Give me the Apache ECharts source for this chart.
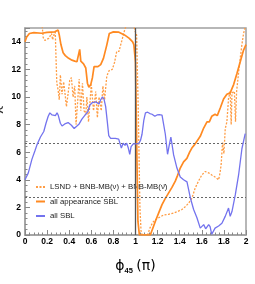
<!DOCTYPE html>
<html><head><meta charset="utf-8">
<script src="https://cdn.jsdelivr.net/npm/echarts@6/dist/echarts.min.js"></script>
<style>html,body{margin:0;padding:0;background:#fff}#c{width:255px;height:284px}</style>
</head><body><div id="c"></div>
<script>
// ---- data ----
const seriesNames = ['LSND + BNB-MB(\u03bd) + BNB-MB(\u03bd\u0304)', 'all appearance SBL', 'all SBL'];
const xRange = [0, 2, 0.2];
const yRange = [0, 15, 2];
const thresholds = [2.71, 6.63];
const verticalMark = [1];

const dotX = [0,0.1,0.155,0.165,0.18,0.196,0.215,0.226,0.24,0.25,0.262,0.274,0.28,0.288,0.3,0.31,0.32,0.335,0.35,0.36,0.375,0.39,0.405,0.42,0.435,0.45,0.462,0.475,0.49,0.505,0.52,0.535,0.55,0.56,0.575,0.59,0.6,0.62,0.64,0.655,0.67,0.69,0.705,0.72,0.74,0.76,0.79,0.81,0.83,0.85,0.88,0.9,0.92,0.96,0.985,0.995,1.01,1.025,1.04,1.05,1.06,1.11,1.13,1.155,1.18,1.21,1.255,1.3,1.345,1.38,1.42,1.45,1.48,1.51,1.54,1.57,1.6,1.632,1.662,1.69,1.72,1.752,1.765,1.775,1.788,1.8,1.812,1.827,1.842,1.857,1.866,1.873,1.895,1.905,1.915,1.94,1.963,1.978,1.99];
const dotY = [16,16,15.2,14.3,14.1,14.1,14.25,14.2,14.6,14.15,14.5,14.7,13.0,11.0,10.5,9.8,11.6,10.2,11.1,10.4,9.3,9.4,11.2,11.4,10.0,10.8,8.0,9.5,11.3,9.0,11.0,9.0,8.7,10.0,8.2,8.3,10.9,9.0,10.4,8.5,10.0,9.0,10.8,9.8,11.5,11.9,12.0,12.5,13.3,13.3,14.2,14.8,15.3,15.5,15.2,14.8,14.5,9,2,0.3,0,0,0.5,0.9,1.1,1.25,1.45,1.5,1.6,1.7,1.85,2.05,2.3,2.65,3.4,3.9,4.35,4.6,4.5,4.35,4.2,4.0,4.5,5.1,6.7,5.9,7.7,8.2,9.9,10.4,8.0,10.3,10.4,8.2,10.4,12.3,13.8,14.6,15.0];

const appX = [0,0.015,0.04,0.08,0.15,0.2,0.27,0.3,0.31,0.325,0.345,0.365,0.395,0.425,0.45,0.47,0.485,0.495,0.505,0.53,0.55,0.565,0.578,0.595,0.61,0.625,0.66,0.685,0.71,0.74,0.763,0.8,0.85,0.9,0.944,0.974,0.985,1.0,1.012,1.022,1.035,1.134,1.155,1.18,1.21,1.24,1.27,1.3,1.33,1.36,1.38,1.405,1.435,1.465,1.49,1.51,1.535,1.556,1.586,1.617,1.647,1.668,1.69,1.72,1.74,1.767,1.797,1.827,1.857,1.888,1.918,1.948,1.978,2.0];
const appY = [14.0,14.35,14.6,14.67,14.62,14.68,14.72,14.85,14.5,13.8,13.2,13.0,12.8,12.67,12.6,12.55,12.6,13.45,12.6,12.4,12.1,11.0,10.7,10.9,11.4,12.2,12.2,12.35,12.8,13.76,14.6,14.72,14.7,14.5,14.25,14.0,13.8,12.5,6,1,0,0,0.45,1.0,1.6,2.2,2.65,3.05,3.45,3.9,4.3,4.85,5.3,5.55,6.0,6.3,6.55,6.8,7.15,7.75,8.2,8.2,8.6,8.75,8.65,9.2,9.85,10.2,10.3,10.9,11.7,12.55,13.4,13.8];

const sblX = [0,0.03,0.063,0.09,0.109,0.14,0.17,0.19,0.21,0.225,0.245,0.26,0.275,0.29,0.3,0.32,0.335,0.36,0.39,0.42,0.445,0.47,0.49,0.515,0.545,0.57,0.585,0.61,0.64,0.67,0.685,0.7,0.715,0.73,0.745,0.758,0.775,0.818,0.848,0.872,0.888,0.905,0.92,0.935,0.948,0.96,0.98,1.0,1.029,1.045,1.059,1.075,1.09,1.11,1.13,1.15,1.175,1.195,1.215,1.24,1.255,1.27,1.29,1.305,1.32,1.33,1.345,1.375,1.405,1.435,1.466,1.496,1.526,1.556,1.586,1.6,1.617,1.635,1.662,1.675,1.69,1.72,1.752,1.782,1.812,1.842,1.857,1.873,1.903,1.933,1.963,1.993];
const sblY = [4.0,4.5,5.5,6.1,6.55,7.1,7.5,8.1,8.6,8.85,8.7,8.6,8.65,8.85,8.7,8.1,7.9,8.05,8.15,7.95,7.72,7.9,8.05,8.4,8.7,8.95,9.4,9.6,9.65,9.5,9.8,10.0,9.85,9.3,8.2,7.2,7.0,7.0,6.95,6.3,6.65,6.5,6.65,6.3,5.85,6.4,6.6,6.6,6.62,6.85,7.3,8.3,8.85,8.9,8.8,8.75,8.6,8.7,8.72,8.68,8.55,7.3,5.85,6.5,7.1,6.6,5.8,4.85,4.2,4.0,3.85,2.7,1.85,1.25,0.5,0.55,0.75,0.45,0.75,0.6,0.05,0.5,0.65,0.85,1.35,1.95,1.35,1.7,2.9,4.35,6.25,7.35];

const colors = ['#ff9d45', '#ff8a22', '#7373ee'];

const zip = (xs, ys) => xs.map((x, i) => [x, ys[i]]);

const chart = echarts.init(document.getElementById('c'), null, {renderer: 'canvas'});
const axisGray = '#a0a0a0';
const labelFont = {color: '#000', fontFamily: 'Liberation Sans', fontWeight: 'bold', fontSize: 8.5};

chart.setOption({
  animation: false,
  backgroundColor: '#fff',
  grid: {left: 25, right: 9, top: 28, bottom: 49, show: true, borderColor: axisGray, borderWidth: 1.5, backgroundColor: 'transparent'},
  legend: {
    data: seriesNames, orient: 'vertical', left: 35, top: 183, padding: 0,
    itemWidth: 9, itemHeight: 8, itemGap: 6.5,
    itemStyle: {opacity: 0},
    textStyle: {fontFamily: 'Liberation Sans', fontSize: 7.8, color: '#222'}
  },
  xAxis: {
    type: 'value', min: xRange[0], max: xRange[1], interval: xRange[2],
    axisLine: {show: true, lineStyle: {color: axisGray, width: 1.5}},
    axisTick: {show: true, inside: true, length: 5, lineStyle: {color: '#888'}},
    minorTick: {show: true, splitNumber: 5, length: 2.5, lineStyle: {color: '#888'}},
    splitLine: {show: false},
    axisLabel: Object.assign({margin: 2}, labelFont),
    name: '{p|\u03d5}{s|45} {p|(\u03c0)}', nameLocation: 'middle', nameGap: 24,
    nameTextStyle: {rich: {
      p: {fontFamily: 'DejaVu Sans', fontSize: 14, color: '#000', lineHeight: 16, verticalAlign: 'top'},
      s: {fontFamily: 'Liberation Sans', fontWeight: 'bold', fontSize: 7.5, color: '#000', lineHeight: 8, padding: [7.5, 0, 0, 0], verticalAlign: 'top'}
    }}
  },
  yAxis: {
    type: 'value', min: yRange[0], max: yRange[1], interval: yRange[2],
    axisLine: {show: true, lineStyle: {color: axisGray, width: 1.5}},
    axisTick: {show: true, inside: true, length: 5, lineStyle: {color: '#888'}},
    minorTick: {show: true, splitNumber: 5, length: 2.5, lineStyle: {color: '#888'}},
    splitLine: {show: false},
    axisLabel: Object.assign({margin: 4, showMaxLabel: false}, labelFont)
  },
  graphic: [{
    type: 'text', x: 3, y: 112, rotation: Math.PI / 2,
    style: {text: '\u0394\u03c7\u00b2', fontSize: 14, fontFamily: 'DejaVu Sans', fill: '#333', align: 'center', verticalAlign: 'bottom'}
  }],
  series: [
    {
      name: seriesNames[0], type: 'line', data: zip(dotX, dotY), showSymbol: false, symbol: 'none',
      lineStyle: {color: colors[0], width: 1.3, type: [2, 1.5]}, itemStyle: {color: colors[0]}, z: 3,
      markLine: {
        silent: true, symbol: 'none', label: {show: false},
        data: thresholds.map(v => ({yAxis: v, lineStyle: {color: '#666', width: 1, type: [2, 2]}}))
          .concat(verticalMark.map(v => ({xAxis: v, lineStyle: {color: '#555', width: 1.3, type: 'solid'}})))
      }
    },
    {
      name: seriesNames[1], type: 'line', data: zip(appX, appY), showSymbol: false, symbol: 'none',
      lineStyle: {color: colors[1], width: 1.7}, itemStyle: {color: colors[1]}, z: 4
    },
    {
      name: seriesNames[2], type: 'line', data: zip(sblX, sblY), showSymbol: false, symbol: 'none',
      lineStyle: {color: colors[2], width: 1.3}, itemStyle: {color: colors[2]}, z: 5
    }
  ]
});
</script>
</body></html>
